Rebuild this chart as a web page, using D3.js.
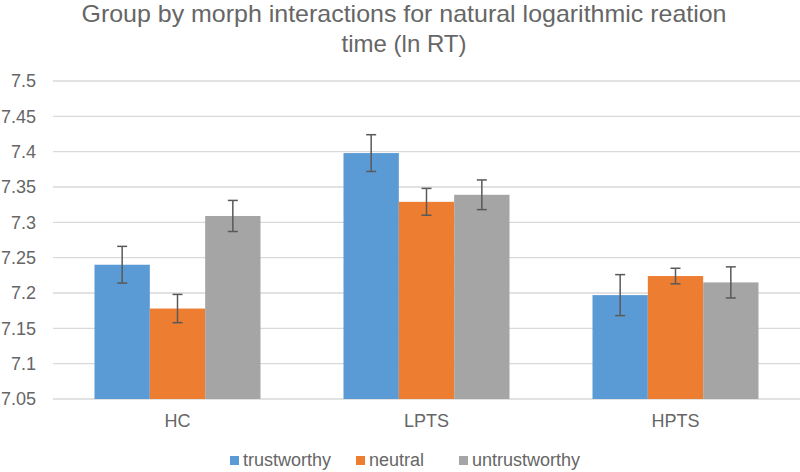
<!DOCTYPE html>
<html><head><meta charset="utf-8">
<script src="https://cdn.jsdelivr.net/npm/d3@7"></script>
<style>body{margin:0;background:#fff;} svg{display:block;font-family:"Liberation Sans",Arial,sans-serif;}</style>
</head><body>
<svg id="chart" width="800" height="472"></svg>
<script>
const categories = ["HC", "LPTS", "HPTS"];
const seriesNames = ["trustworthy", "neutral", "untrustworthy"];
const trustworthy = [7.240, 7.398, 7.197];
const neutral = [7.178, 7.329, 7.224];
const untrustworthy = [7.309, 7.339, 7.215];
const errTrustworthy = [0.026, 0.026, 0.029];
const errNeutral = [0.020, 0.019, 0.011];
const errUntrustworthy = [0.022, 0.021, 0.022];
const yTicks = [7.05, 7.1, 7.15, 7.2, 7.25, 7.3, 7.35, 7.4, 7.45, 7.5];
const colors = ["#5B9BD5", "#ED7D31", "#A5A5A5"];

const values = [trustworthy, neutral, untrustworthy];
const errs = [errTrustworthy, errNeutral, errUntrustworthy];

const svg = d3.select("#chart");
const mLeft = 53, mRight = 800, mTop = 81, mBottom = 399;
const textColor = "#666666";

const x = d3.scaleBand().domain(categories).range([mLeft, mRight]).paddingInner(1/3).paddingOuter(1/6);
const xs = d3.scaleBand().domain(seriesNames).range([0, x.bandwidth()]);
const y = d3.scaleLinear().domain([7.05, 7.5]).range([mBottom, mTop]);

// title
svg.append("text").attr("x", 404).attr("y", 22).attr("text-anchor", "middle")
  .attr("font-size", 24).attr("fill", textColor)
  .attr("textLength", 645).attr("lengthAdjust", "spacingAndGlyphs")
  .text("Group by morph interactions for natural logarithmic reation");
svg.append("text").attr("x", 404).attr("y", 52).attr("text-anchor", "middle")
  .attr("font-size", 24).attr("fill", textColor)
  .text("time (ln RT)");

// gridlines
svg.append("g").selectAll("line").data(yTicks).join("line")
  .attr("x1", mLeft).attr("x2", mRight)
  .attr("y1", d => y(d)).attr("y2", d => y(d))
  .attr("stroke", "#D9D9D9").attr("stroke-width", 1.3);

// y labels
const yAxis = d3.axisLeft(y).tickValues(yTicks).tickSize(0).tickPadding(0).tickFormat(d => String(+d.toFixed(2)));
const ya = svg.append("g").attr("transform", `translate(${mLeft - 17},0)`).call(yAxis);
ya.select(".domain").remove();
ya.selectAll("text").attr("font-size", 18).attr("fill", textColor).attr("font-family", "Liberation Sans, Arial, sans-serif");

// bars
const rows = [];
seriesNames.forEach((s, si) => categories.forEach((c, ci) => rows.push({s, si, c, v: values[si][ci], e: errs[si][ci]})));

svg.append("g").selectAll("rect").data(rows).join("rect")
  .attr("x", d => x(d.c) + xs(d.s))
  .attr("width", xs.bandwidth())
  .attr("y", d => y(d.v))
  .attr("height", d => y(7.05) - y(d.v))
  .attr("fill", d => colors[d.si]);

// error bars
const eg = svg.append("g").attr("stroke", "#595959").attr("stroke-width", 1.5);
rows.forEach(d => {
  const cx = x(d.c) + xs(d.s) + xs.bandwidth() / 2;
  eg.append("line").attr("x1", cx).attr("x2", cx).attr("y1", y(d.v + d.e)).attr("y2", y(d.v - d.e));
  eg.append("line").attr("x1", cx - 5).attr("x2", cx + 5).attr("y1", y(d.v + d.e)).attr("y2", y(d.v + d.e));
  eg.append("line").attr("x1", cx - 5).attr("x2", cx + 5).attr("y1", y(d.v - d.e)).attr("y2", y(d.v - d.e));
});

// x labels
const xAxis = d3.axisBottom(x).tickSize(0).tickPadding(0);
const xa = svg.append("g").attr("transform", `translate(0,${mBottom + 15})`).call(xAxis);
xa.select(".domain").remove();
xa.selectAll("text").attr("font-size", 18).attr("fill", textColor).attr("font-family", "Liberation Sans, Arial, sans-serif");

// legend
const legX = [230, 356, 459];
const lg = svg.append("g");
seriesNames.forEach((s, i) => {
  lg.append("rect").attr("x", legX[i]).attr("y", 456).attr("width", 9).attr("height", 9).attr("fill", colors[i]);
  lg.append("text").attr("x", legX[i] + 13).attr("y", 466).attr("font-size", 18).attr("fill", textColor).text(s);
});
</script>
</body></html>
